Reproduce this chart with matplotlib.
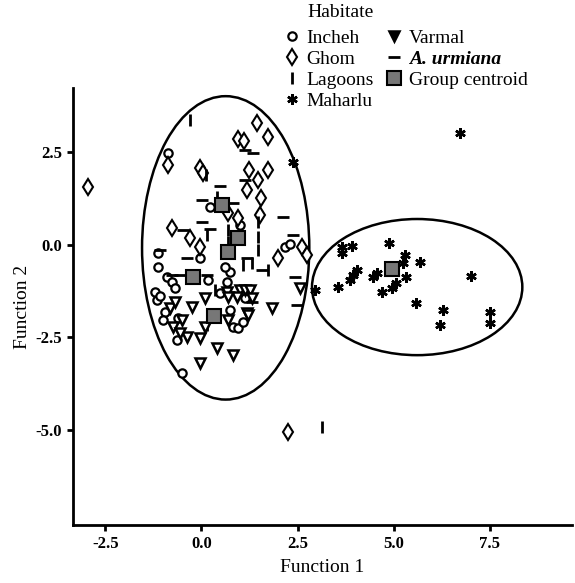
import matplotlib
matplotlib.use("Agg")
import matplotlib.pyplot as plt
from matplotlib.patches import Ellipse
from matplotlib.lines import Line2D

plt.rcParams['font.family'] = ['Liberation Serif', 'DejaVu Serif']

incheh_x = [-0.88, 0.22, 1.00, -1.14, -1.14, -0.90, -0.77, -0.70, -1.22, -1.16, -1.09, -0.96, -1.01,
            -0.64, -0.51, 0.16, 0.66, 0.74, 0.48, 0.74, 0.82, 0.95, 1.08, 2.17, 2.30, -0.62, -0.04, 0.61, 1.13]
incheh_y = [2.49, 1.03, 0.54, -0.22, -0.59, -0.86, -1.00, -1.16, -1.27, -1.49, -1.38, -1.81, -2.03,
            -2.57, -3.46, -0.95, -1.00, -0.73, -1.30, -1.76, -2.22, -2.24, -2.08, -0.05, 0.03, -1.97, -0.35, -0.59, -1.43]

ghom_x = [-2.96, 2.25, -0.88, -0.04, 0.04, 1.44, 1.73, 0.95, 1.11, 1.23, 1.73, 1.47, 1.18, 1.55, 1.52,
          -0.77, -0.30, -0.04, 0.95, 0.69, 2.61, 1.99, 2.74]
ghom_y = [1.57, -5.05, 2.16, 2.08, 1.95, 3.30, 2.92, 2.86, 2.81, 2.03, 2.03, 1.76, 1.49, 1.27, 0.81,
          0.46, 0.19, -0.05, 0.73, 0.86, -0.05, -0.35, -0.27]

lagoons_x = [3.13, -0.30, 0.11, 0.40, 1.47, 1.47, 1.47, 0.14, 0.69, 0.69, 1.31, 1.73, 1.08, 0.35, 0.14]
lagoons_y = [-4.92, 3.38, 1.89, 1.30, 0.62, 0.22, -0.14, 0.27, 0.41, 0.08, -0.49, -0.68, -0.54, -1.22, -2.16]

maharlu_x = [6.73, 2.38, 4.88, 3.65, 3.91, 3.65, 5.30, 5.24, 5.69, 4.04, 3.94, 3.86, 4.56, 4.46, 5.32,
             7.00, 3.56, 2.95, 5.06, 4.95, 4.69, 5.58, 6.29, 6.21, 7.51, 7.51]
maharlu_y = [3.03, 2.24, 0.05, -0.05, -0.03, -0.22, -0.27, -0.49, -0.46, -0.68, -0.81, -0.95, -0.76, -0.86, -0.86,
             -0.84, -1.14, -1.22, -1.03, -1.16, -1.27, -1.57, -1.76, -2.16, -1.81, -2.11]

varmal_x = [2.56, 1.83, 1.00, 1.13, 1.26, 0.92, 0.09, -0.25, 0.66, -0.83, -0.51, -0.75, -0.04, 0.40, 0.82,
            -0.04, 1.18, 0.09, -0.38, 0.69, 1.21, -0.70, -0.56, 0.69, 1.31]
varmal_y = [-1.16, -1.70, -1.22, -1.22, -1.22, -1.41, -1.43, -1.68, -1.27, -1.70, -2.03, -2.22, -2.51, -2.78, -2.97,
            -3.19, -1.84, -2.22, -2.49, -2.03, -1.89, -1.54, -2.38, -1.41, -1.43]

urmiana_x = [1.34, 1.13, 1.13, 0.48, 0.01, 0.82, 2.12, 0.01, -0.49, 2.38, -1.09, -0.38, -0.77, -0.56, 1.18,
             2.43, 2.48, 1.31, 0.14, 0.22, 1.57]
urmiana_y = [2.49, 2.57, 1.76, 1.59, 1.22, 1.14, 0.76, 0.62, 0.41, 0.27, -0.14, -0.35, -0.81, -0.81, -0.35,
             -0.86, -1.62, -1.54, -0.81, 0.43, -0.68]

centroid_x = [0.53, 0.95, 0.69, -0.22, 0.32, 4.96]
centroid_y = [1.08, 0.19, -0.19, -0.86, -1.92, -0.65]

ellipse_centers = [(0.63, -0.08), (5.61, -1.14)]
ellipse_sizes = [(4.35, 8.2), (5.47, 3.68)]

legend_title = 'Habitate'
legend_labels = ['Incheh', 'Ghom', 'Lagoons', 'Maharlu', 'Varmal', 'A. urmiana', 'Group centroid']

fig = plt.figure(figsize=(5.75, 5.83), dpi=100)
ax = fig.add_axes([0.127, 0.0995, 0.868, 0.7495])

for (cx, cy), (w, h) in zip(ellipse_centers, ellipse_sizes):
    ax.add_patch(Ellipse((cx, cy), w, h, fill=False, edgecolor='black', linewidth=1.8, zorder=1))

st_inc = dict(marker='o', ls='none', ms=6, mfc='white', mec='black', mew=1.6)
st_gho = dict(marker='d', ls='none', ms=8.5, mfc='white', mec='black', mew=1.5)
st_lag = dict(marker='|', ls='none', ms=8, mec='black', mew=2.0)
st_mah = dict(marker=(6, 2, 0), ls='none', ms=7.5, mec='black', mew=1.8)
st_var = dict(marker='v', ls='none', ms=6.5, mfc='white', mec='black', mew=1.8)
st_urm = dict(marker='_', ls='none', ms=8, mec='black', mew=2.0)
st_cen = dict(marker='s', ls='none', ms=9.5, mfc='#777777', mec='black', mew=1.5)

ax.plot(incheh_x, incheh_y, zorder=3, **st_inc)
ax.plot(ghom_x, ghom_y, zorder=3, **st_gho)
ax.plot(lagoons_x, lagoons_y, zorder=3, **st_lag)
ax.plot(maharlu_x, maharlu_y, zorder=3, **st_mah)
ax.plot(varmal_x, varmal_y, zorder=3, **st_var)
ax.plot(urmiana_x, urmiana_y, zorder=3, **st_urm)
ax.plot(centroid_x, centroid_y, zorder=4, **st_cen)

ax.set_xlim(-3.34, 9.64)
ax.set_ylim(-7.57, 4.24)
ax.set_xticks([-2.5, 0.0, 2.5, 5.0, 7.5])
ax.set_yticks([-5.0, -2.5, 0.0, 2.5])
ax.set_xticklabels(['-2.5', '0.0', '2.5', '5.0', '7.5'])
ax.set_yticklabels(['-5.0', '-2.5', '0.0', '2.5'])
for s in ['top', 'right']:
    ax.spines[s].set_visible(False)
for s in ['left', 'bottom']:
    ax.spines[s].set_linewidth(2.0)
ax.tick_params(direction='out', length=4, width=2, labelsize=12, pad=4)
for lab in ax.get_xticklabels() + ax.get_yticklabels():
    lab.set_fontweight('bold')
ax.set_xlabel('Function 1', fontsize=14, labelpad=5)
ax.set_ylabel('Function 2', fontsize=14, labelpad=3)

leg_st = [dict(st_inc), dict(st_gho), dict(st_lag), dict(st_mah),
          dict(st_var, mfc='black'), dict(st_urm), dict(st_cen)]
handles = [Line2D([], [], **d) for d in leg_st]
leg = fig.legend(handles, legend_labels, ncol=2, loc='upper left',
                 bbox_to_anchor=(0.494, 0.950), frameon=False, fontsize=14,
                 handlelength=0.8, handletextpad=0.35, columnspacing=0.64, labelspacing=0.17,
                 borderaxespad=0.0, borderpad=0.0)
leg.get_texts()[5].set_fontstyle('italic')
leg.get_texts()[5].set_fontweight('bold')
fig.text(0.535, 0.979, legend_title, fontsize=14, ha='left', va='center')

fig.savefig('out.png', dpi=100)
